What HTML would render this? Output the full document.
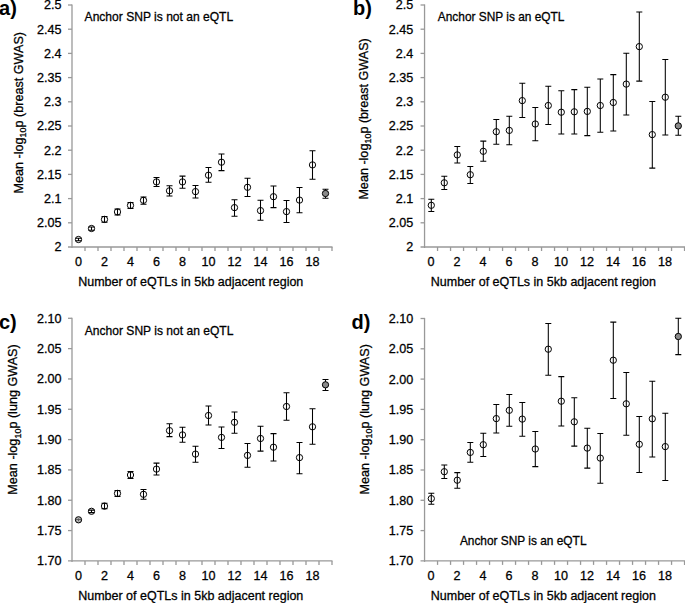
<!DOCTYPE html>
<html><head><meta charset="utf-8"><style>
html,body{margin:0;padding:0;background:#fff;}
body{width:685px;height:603px;overflow:hidden;}
svg{display:block;}
.t{font-family:"Liberation Sans",sans-serif;font-size:12.6px;fill:#000;stroke:#000;stroke-width:0.28;}
.lb{font-family:"Liberation Sans",sans-serif;font-size:20px;font-weight:bold;fill:#000;}
.n{font-family:"Liberation Sans",sans-serif;font-size:13px;fill:#000;stroke:#000;stroke-width:0.3;}
.e{stroke:#000;stroke-width:1.05;fill:none;}
.m{stroke:#000;stroke-width:1.0;}
</style></head><body>
<svg width="685" height="603" viewBox="0 0 685 603">
<line x1="72.0" y1="4.4" x2="72.0" y2="248.0" stroke="#999999" stroke-width="1.3"/>
<line x1="68.0" y1="247.0" x2="332.5" y2="247.0" stroke="#999999" stroke-width="1.3"/>
<text x="61.40" y="251.40" text-anchor="end" class="t">2</text>
<line x1="68.0" y1="222.80" x2="72.0" y2="222.80" stroke="#999999" stroke-width="1.3"/>
<text x="61.40" y="227.20" text-anchor="end" class="t">2.05</text>
<line x1="68.0" y1="198.60" x2="72.0" y2="198.60" stroke="#999999" stroke-width="1.3"/>
<text x="61.40" y="203.00" text-anchor="end" class="t">2.1</text>
<line x1="68.0" y1="174.40" x2="72.0" y2="174.40" stroke="#999999" stroke-width="1.3"/>
<text x="61.40" y="178.80" text-anchor="end" class="t">2.15</text>
<line x1="68.0" y1="150.20" x2="72.0" y2="150.20" stroke="#999999" stroke-width="1.3"/>
<text x="61.40" y="154.60" text-anchor="end" class="t">2.2</text>
<line x1="68.0" y1="126.00" x2="72.0" y2="126.00" stroke="#999999" stroke-width="1.3"/>
<text x="61.40" y="130.40" text-anchor="end" class="t">2.25</text>
<line x1="68.0" y1="101.80" x2="72.0" y2="101.80" stroke="#999999" stroke-width="1.3"/>
<text x="61.40" y="106.20" text-anchor="end" class="t">2.3</text>
<line x1="68.0" y1="77.60" x2="72.0" y2="77.60" stroke="#999999" stroke-width="1.3"/>
<text x="61.40" y="82.00" text-anchor="end" class="t">2.35</text>
<line x1="68.0" y1="53.40" x2="72.0" y2="53.40" stroke="#999999" stroke-width="1.3"/>
<text x="61.40" y="57.80" text-anchor="end" class="t">2.4</text>
<line x1="68.0" y1="29.20" x2="72.0" y2="29.20" stroke="#999999" stroke-width="1.3"/>
<text x="61.40" y="33.60" text-anchor="end" class="t">2.45</text>
<line x1="68.0" y1="5.00" x2="72.0" y2="5.00" stroke="#999999" stroke-width="1.3"/>
<text x="61.40" y="9.40" text-anchor="end" class="t">2.5</text>
<line x1="85.00" y1="247.0" x2="85.00" y2="251.0" stroke="#999999" stroke-width="1.3"/>
<line x1="98.00" y1="247.0" x2="98.00" y2="251.0" stroke="#999999" stroke-width="1.3"/>
<line x1="111.00" y1="247.0" x2="111.00" y2="251.0" stroke="#999999" stroke-width="1.3"/>
<line x1="124.00" y1="247.0" x2="124.00" y2="251.0" stroke="#999999" stroke-width="1.3"/>
<line x1="137.00" y1="247.0" x2="137.00" y2="251.0" stroke="#999999" stroke-width="1.3"/>
<line x1="150.00" y1="247.0" x2="150.00" y2="251.0" stroke="#999999" stroke-width="1.3"/>
<line x1="163.00" y1="247.0" x2="163.00" y2="251.0" stroke="#999999" stroke-width="1.3"/>
<line x1="176.00" y1="247.0" x2="176.00" y2="251.0" stroke="#999999" stroke-width="1.3"/>
<line x1="189.00" y1="247.0" x2="189.00" y2="251.0" stroke="#999999" stroke-width="1.3"/>
<line x1="202.00" y1="247.0" x2="202.00" y2="251.0" stroke="#999999" stroke-width="1.3"/>
<line x1="215.00" y1="247.0" x2="215.00" y2="251.0" stroke="#999999" stroke-width="1.3"/>
<line x1="228.00" y1="247.0" x2="228.00" y2="251.0" stroke="#999999" stroke-width="1.3"/>
<line x1="241.00" y1="247.0" x2="241.00" y2="251.0" stroke="#999999" stroke-width="1.3"/>
<line x1="254.00" y1="247.0" x2="254.00" y2="251.0" stroke="#999999" stroke-width="1.3"/>
<line x1="267.00" y1="247.0" x2="267.00" y2="251.0" stroke="#999999" stroke-width="1.3"/>
<line x1="280.00" y1="247.0" x2="280.00" y2="251.0" stroke="#999999" stroke-width="1.3"/>
<line x1="293.00" y1="247.0" x2="293.00" y2="251.0" stroke="#999999" stroke-width="1.3"/>
<line x1="306.00" y1="247.0" x2="306.00" y2="251.0" stroke="#999999" stroke-width="1.3"/>
<line x1="319.00" y1="247.0" x2="319.00" y2="251.0" stroke="#999999" stroke-width="1.3"/>
<line x1="332.00" y1="247.0" x2="332.00" y2="251.0" stroke="#999999" stroke-width="1.3"/>
<text x="78.50" y="266.10" text-anchor="middle" class="t">0</text>
<text x="104.50" y="266.10" text-anchor="middle" class="t">2</text>
<text x="130.50" y="266.10" text-anchor="middle" class="t">4</text>
<text x="156.50" y="266.10" text-anchor="middle" class="t">6</text>
<text x="182.50" y="266.10" text-anchor="middle" class="t">8</text>
<text x="208.50" y="266.10" text-anchor="middle" class="t">10</text>
<text x="234.50" y="266.10" text-anchor="middle" class="t">12</text>
<text x="260.50" y="266.10" text-anchor="middle" class="t">14</text>
<text x="286.50" y="266.10" text-anchor="middle" class="t">16</text>
<text x="312.50" y="266.10" text-anchor="middle" class="t">18</text>
<text x="78.2" y="286.20" class="t" style="font-size:12.5px">Number of eQTLs in 5kb adjacent region</text>
<text transform="translate(22.9,112.7) rotate(-90)" text-anchor="middle" class="t" style="font-size:12.6px">Mean -log<tspan style="font-size:9px" dy="3.3">10</tspan><tspan dy="-3.3">p (breast GWAS)</tspan></text>
<text x="-0.9" y="14.7" class="lb">a)</text>
<text x="84.6" y="20.8" class="n" textLength="148.6" lengthAdjust="spacingAndGlyphs">Anchor SNP is not an eQTL</text>
<path d="M78.50 238.3V240.7M75.50 238.3h6M75.50 240.7h6" class="e"/>
<path d="M91.50 227V230.3M88.50 227h6M88.50 230.3h6" class="e"/>
<path d="M104.50 216.4V222.3M101.50 216.4h6M101.50 222.3h6" class="e"/>
<path d="M117.50 208.9V214.9M114.50 208.9h6M114.50 214.9h6" class="e"/>
<path d="M130.50 202.4V208.4M127.50 202.4h6M127.50 208.4h6" class="e"/>
<path d="M143.50 197V204.3M140.50 197h6M140.50 204.3h6" class="e"/>
<path d="M156.50 177.4V186.4M153.50 177.4h6M153.50 186.4h6" class="e"/>
<path d="M169.50 185.7V196M166.50 185.7h6M166.50 196h6" class="e"/>
<path d="M182.50 176.1V188.2M179.50 176.1h6M179.50 188.2h6" class="e"/>
<path d="M195.50 185.4V198M192.50 185.4h6M192.50 198h6" class="e"/>
<path d="M208.50 167.4V182.3M205.50 167.4h6M205.50 182.3h6" class="e"/>
<path d="M221.50 154V170.6M218.50 154h6M218.50 170.6h6" class="e"/>
<path d="M234.50 199.7V216.2M231.50 199.7h6M231.50 216.2h6" class="e"/>
<path d="M247.50 178.2V196.5M244.50 178.2h6M244.50 196.5h6" class="e"/>
<path d="M260.50 200.2V220.3M257.50 200.2h6M257.50 220.3h6" class="e"/>
<path d="M273.50 186V207.6M270.50 186h6M270.50 207.6h6" class="e"/>
<path d="M286.50 200.4V222.4M283.50 200.4h6M283.50 222.4h6" class="e"/>
<path d="M299.50 187.5V212.7M296.50 187.5h6M296.50 212.7h6" class="e"/>
<path d="M312.50 150.7V179.3M309.50 150.7h6M309.50 179.3h6" class="e"/>
<path d="M325.50 189.3V198.3M322.50 189.3h6M322.50 198.3h6" class="e"/>
<circle cx="78.50" cy="239.5" r="3.15" fill="none" class="m"/>
<circle cx="91.50" cy="228.5" r="3.15" fill="none" class="m"/>
<circle cx="104.50" cy="219.4" r="3.15" fill="none" class="m"/>
<circle cx="117.50" cy="211.9" r="3.15" fill="none" class="m"/>
<circle cx="130.50" cy="205.4" r="3.15" fill="none" class="m"/>
<circle cx="143.50" cy="200.3" r="3.15" fill="none" class="m"/>
<circle cx="156.50" cy="181.9" r="3.15" fill="none" class="m"/>
<circle cx="169.50" cy="190.8" r="3.15" fill="none" class="m"/>
<circle cx="182.50" cy="181.9" r="3.15" fill="none" class="m"/>
<circle cx="195.50" cy="191.6" r="3.15" fill="none" class="m"/>
<circle cx="208.50" cy="175.2" r="3.15" fill="none" class="m"/>
<circle cx="221.50" cy="162.2" r="3.15" fill="none" class="m"/>
<circle cx="234.50" cy="207.6" r="3.15" fill="none" class="m"/>
<circle cx="247.50" cy="187.3" r="3.15" fill="none" class="m"/>
<circle cx="260.50" cy="210.6" r="3.15" fill="none" class="m"/>
<circle cx="273.50" cy="196.7" r="3.15" fill="none" class="m"/>
<circle cx="286.50" cy="211.6" r="3.15" fill="none" class="m"/>
<circle cx="299.50" cy="200.1" r="3.15" fill="none" class="m"/>
<circle cx="312.50" cy="164.9" r="3.15" fill="none" class="m"/>
<circle cx="325.50" cy="193.5" r="3.15" fill="#8a8a8a" class="m"/>
<line x1="424.55" y1="4.4" x2="424.55" y2="248.0" stroke="#999999" stroke-width="1.3"/>
<line x1="420.55" y1="247.0" x2="685.05" y2="247.0" stroke="#999999" stroke-width="1.3"/>
<text x="413.25" y="251.40" text-anchor="end" class="t">2</text>
<line x1="420.55" y1="222.80" x2="424.55" y2="222.80" stroke="#999999" stroke-width="1.3"/>
<text x="413.25" y="227.20" text-anchor="end" class="t">2.05</text>
<line x1="420.55" y1="198.60" x2="424.55" y2="198.60" stroke="#999999" stroke-width="1.3"/>
<text x="413.25" y="203.00" text-anchor="end" class="t">2.1</text>
<line x1="420.55" y1="174.40" x2="424.55" y2="174.40" stroke="#999999" stroke-width="1.3"/>
<text x="413.25" y="178.80" text-anchor="end" class="t">2.15</text>
<line x1="420.55" y1="150.20" x2="424.55" y2="150.20" stroke="#999999" stroke-width="1.3"/>
<text x="413.25" y="154.60" text-anchor="end" class="t">2.2</text>
<line x1="420.55" y1="126.00" x2="424.55" y2="126.00" stroke="#999999" stroke-width="1.3"/>
<text x="413.25" y="130.40" text-anchor="end" class="t">2.25</text>
<line x1="420.55" y1="101.80" x2="424.55" y2="101.80" stroke="#999999" stroke-width="1.3"/>
<text x="413.25" y="106.20" text-anchor="end" class="t">2.3</text>
<line x1="420.55" y1="77.60" x2="424.55" y2="77.60" stroke="#999999" stroke-width="1.3"/>
<text x="413.25" y="82.00" text-anchor="end" class="t">2.35</text>
<line x1="420.55" y1="53.40" x2="424.55" y2="53.40" stroke="#999999" stroke-width="1.3"/>
<text x="413.25" y="57.80" text-anchor="end" class="t">2.4</text>
<line x1="420.55" y1="29.20" x2="424.55" y2="29.20" stroke="#999999" stroke-width="1.3"/>
<text x="413.25" y="33.60" text-anchor="end" class="t">2.45</text>
<line x1="420.55" y1="5.00" x2="424.55" y2="5.00" stroke="#999999" stroke-width="1.3"/>
<text x="413.25" y="9.40" text-anchor="end" class="t">2.5</text>
<line x1="437.55" y1="247.0" x2="437.55" y2="251.0" stroke="#999999" stroke-width="1.3"/>
<line x1="450.55" y1="247.0" x2="450.55" y2="251.0" stroke="#999999" stroke-width="1.3"/>
<line x1="463.55" y1="247.0" x2="463.55" y2="251.0" stroke="#999999" stroke-width="1.3"/>
<line x1="476.55" y1="247.0" x2="476.55" y2="251.0" stroke="#999999" stroke-width="1.3"/>
<line x1="489.55" y1="247.0" x2="489.55" y2="251.0" stroke="#999999" stroke-width="1.3"/>
<line x1="502.55" y1="247.0" x2="502.55" y2="251.0" stroke="#999999" stroke-width="1.3"/>
<line x1="515.55" y1="247.0" x2="515.55" y2="251.0" stroke="#999999" stroke-width="1.3"/>
<line x1="528.55" y1="247.0" x2="528.55" y2="251.0" stroke="#999999" stroke-width="1.3"/>
<line x1="541.55" y1="247.0" x2="541.55" y2="251.0" stroke="#999999" stroke-width="1.3"/>
<line x1="554.55" y1="247.0" x2="554.55" y2="251.0" stroke="#999999" stroke-width="1.3"/>
<line x1="567.55" y1="247.0" x2="567.55" y2="251.0" stroke="#999999" stroke-width="1.3"/>
<line x1="580.55" y1="247.0" x2="580.55" y2="251.0" stroke="#999999" stroke-width="1.3"/>
<line x1="593.55" y1="247.0" x2="593.55" y2="251.0" stroke="#999999" stroke-width="1.3"/>
<line x1="606.55" y1="247.0" x2="606.55" y2="251.0" stroke="#999999" stroke-width="1.3"/>
<line x1="619.55" y1="247.0" x2="619.55" y2="251.0" stroke="#999999" stroke-width="1.3"/>
<line x1="632.55" y1="247.0" x2="632.55" y2="251.0" stroke="#999999" stroke-width="1.3"/>
<line x1="645.55" y1="247.0" x2="645.55" y2="251.0" stroke="#999999" stroke-width="1.3"/>
<line x1="658.55" y1="247.0" x2="658.55" y2="251.0" stroke="#999999" stroke-width="1.3"/>
<line x1="671.55" y1="247.0" x2="671.55" y2="251.0" stroke="#999999" stroke-width="1.3"/>
<line x1="684.55" y1="247.0" x2="684.55" y2="251.0" stroke="#999999" stroke-width="1.3"/>
<text x="431.05" y="266.10" text-anchor="middle" class="t">0</text>
<text x="457.05" y="266.10" text-anchor="middle" class="t">2</text>
<text x="483.05" y="266.10" text-anchor="middle" class="t">4</text>
<text x="509.05" y="266.10" text-anchor="middle" class="t">6</text>
<text x="535.05" y="266.10" text-anchor="middle" class="t">8</text>
<text x="561.05" y="266.10" text-anchor="middle" class="t">10</text>
<text x="587.05" y="266.10" text-anchor="middle" class="t">12</text>
<text x="613.05" y="266.10" text-anchor="middle" class="t">14</text>
<text x="639.05" y="266.10" text-anchor="middle" class="t">16</text>
<text x="665.05" y="266.10" text-anchor="middle" class="t">18</text>
<text x="430.75" y="286.20" class="t" style="font-size:12.5px">Number of eQTLs in 5kb adjacent region</text>
<text transform="translate(367.9,118.9) rotate(-90)" text-anchor="middle" class="t" style="font-size:12.6px">Mean -log<tspan style="font-size:9px" dy="3.3">10</tspan><tspan dy="-3.3">p (breast GWAS)</tspan></text>
<text x="353" y="14.5" class="lb">b)</text>
<text x="437.8" y="21.0" class="n" textLength="126.6" lengthAdjust="spacingAndGlyphs">Anchor SNP is an eQTL</text>
<path d="M431.30 199.3V211.4M428.30 199.3h6M428.30 211.4h6" class="e"/>
<path d="M444.30 176.2V189.5M441.30 176.2h6M441.30 189.5h6" class="e"/>
<path d="M457.30 146.4V162.9M454.30 146.4h6M454.30 162.9h6" class="e"/>
<path d="M470.30 166.5V183.4M467.30 166.5h6M467.30 183.4h6" class="e"/>
<path d="M483.30 141.1V161.2M480.30 141.1h6M480.30 161.2h6" class="e"/>
<path d="M496.30 119.5V144.3M493.30 119.5h6M493.30 144.3h6" class="e"/>
<path d="M509.30 116.2V144.7M506.30 116.2h6M506.30 144.7h6" class="e"/>
<path d="M522.30 83.3V117.5M519.30 83.3h6M519.30 117.5h6" class="e"/>
<path d="M535.30 107.5V140.7M532.30 107.5h6M532.30 140.7h6" class="e"/>
<path d="M548.30 86.2V124.4M545.30 86.2h6M545.30 124.4h6" class="e"/>
<path d="M561.30 90.8V133.9M558.30 90.8h6M558.30 133.9h6" class="e"/>
<path d="M574.30 89.6V133.9M571.30 89.6h6M571.30 133.9h6" class="e"/>
<path d="M587.30 87.2V135.6M584.30 87.2h6M584.30 135.6h6" class="e"/>
<path d="M600.30 78.9V132.3M597.30 78.9h6M597.30 132.3h6" class="e"/>
<path d="M613.30 74.6V131M610.30 74.6h6M610.30 131h6" class="e"/>
<path d="M626.30 53.2V114.9M623.30 53.2h6M623.30 114.9h6" class="e"/>
<path d="M639.30 12V81.1M636.30 12h6M636.30 81.1h6" class="e"/>
<path d="M652.30 101.4V168.1M649.30 101.4h6M649.30 168.1h6" class="e"/>
<path d="M665.30 59.5V134.9M662.30 59.5h6M662.30 134.9h6" class="e"/>
<path d="M678.30 116.3V135.3M675.30 116.3h6M675.30 135.3h6" class="e"/>
<circle cx="431.30" cy="205.3" r="3.15" fill="none" class="m"/>
<circle cx="444.30" cy="182.8" r="3.15" fill="none" class="m"/>
<circle cx="457.30" cy="154.9" r="3.15" fill="none" class="m"/>
<circle cx="470.30" cy="174.7" r="3.15" fill="none" class="m"/>
<circle cx="483.30" cy="151.3" r="3.15" fill="none" class="m"/>
<circle cx="496.30" cy="131.7" r="3.15" fill="none" class="m"/>
<circle cx="509.30" cy="130.4" r="3.15" fill="none" class="m"/>
<circle cx="522.30" cy="100.6" r="3.15" fill="none" class="m"/>
<circle cx="535.30" cy="124" r="3.15" fill="none" class="m"/>
<circle cx="548.30" cy="105.5" r="3.15" fill="none" class="m"/>
<circle cx="561.30" cy="112.2" r="3.15" fill="none" class="m"/>
<circle cx="574.30" cy="111.8" r="3.15" fill="none" class="m"/>
<circle cx="587.30" cy="111.4" r="3.15" fill="none" class="m"/>
<circle cx="600.30" cy="105.5" r="3.15" fill="none" class="m"/>
<circle cx="613.30" cy="102.5" r="3.15" fill="none" class="m"/>
<circle cx="626.30" cy="84.1" r="3.15" fill="none" class="m"/>
<circle cx="639.30" cy="46.6" r="3.15" fill="none" class="m"/>
<circle cx="652.30" cy="134.6" r="3.15" fill="none" class="m"/>
<circle cx="665.30" cy="97.2" r="3.15" fill="none" class="m"/>
<circle cx="678.30" cy="125.9" r="3.15" fill="#8a8a8a" class="m"/>
<line x1="72.0" y1="317.7" x2="72.0" y2="561.9" stroke="#999999" stroke-width="1.3"/>
<line x1="68.0" y1="560.9" x2="332.5" y2="560.9" stroke="#999999" stroke-width="1.3"/>
<text x="61.40" y="565.30" text-anchor="end" class="t">1.70</text>
<line x1="68.0" y1="530.57" x2="72.0" y2="530.57" stroke="#999999" stroke-width="1.3"/>
<text x="61.40" y="534.97" text-anchor="end" class="t">1.75</text>
<line x1="68.0" y1="500.25" x2="72.0" y2="500.25" stroke="#999999" stroke-width="1.3"/>
<text x="61.40" y="504.65" text-anchor="end" class="t">1.80</text>
<line x1="68.0" y1="469.92" x2="72.0" y2="469.92" stroke="#999999" stroke-width="1.3"/>
<text x="61.40" y="474.32" text-anchor="end" class="t">1.85</text>
<line x1="68.0" y1="439.60" x2="72.0" y2="439.60" stroke="#999999" stroke-width="1.3"/>
<text x="61.40" y="444.00" text-anchor="end" class="t">1.90</text>
<line x1="68.0" y1="409.27" x2="72.0" y2="409.27" stroke="#999999" stroke-width="1.3"/>
<text x="61.40" y="413.67" text-anchor="end" class="t">1.95</text>
<line x1="68.0" y1="378.95" x2="72.0" y2="378.95" stroke="#999999" stroke-width="1.3"/>
<text x="61.40" y="383.35" text-anchor="end" class="t">2.00</text>
<line x1="68.0" y1="348.62" x2="72.0" y2="348.62" stroke="#999999" stroke-width="1.3"/>
<text x="61.40" y="353.02" text-anchor="end" class="t">2.05</text>
<line x1="68.0" y1="318.30" x2="72.0" y2="318.30" stroke="#999999" stroke-width="1.3"/>
<text x="61.40" y="322.70" text-anchor="end" class="t">2.10</text>
<line x1="85.00" y1="560.9" x2="85.00" y2="564.9" stroke="#999999" stroke-width="1.3"/>
<line x1="98.00" y1="560.9" x2="98.00" y2="564.9" stroke="#999999" stroke-width="1.3"/>
<line x1="111.00" y1="560.9" x2="111.00" y2="564.9" stroke="#999999" stroke-width="1.3"/>
<line x1="124.00" y1="560.9" x2="124.00" y2="564.9" stroke="#999999" stroke-width="1.3"/>
<line x1="137.00" y1="560.9" x2="137.00" y2="564.9" stroke="#999999" stroke-width="1.3"/>
<line x1="150.00" y1="560.9" x2="150.00" y2="564.9" stroke="#999999" stroke-width="1.3"/>
<line x1="163.00" y1="560.9" x2="163.00" y2="564.9" stroke="#999999" stroke-width="1.3"/>
<line x1="176.00" y1="560.9" x2="176.00" y2="564.9" stroke="#999999" stroke-width="1.3"/>
<line x1="189.00" y1="560.9" x2="189.00" y2="564.9" stroke="#999999" stroke-width="1.3"/>
<line x1="202.00" y1="560.9" x2="202.00" y2="564.9" stroke="#999999" stroke-width="1.3"/>
<line x1="215.00" y1="560.9" x2="215.00" y2="564.9" stroke="#999999" stroke-width="1.3"/>
<line x1="228.00" y1="560.9" x2="228.00" y2="564.9" stroke="#999999" stroke-width="1.3"/>
<line x1="241.00" y1="560.9" x2="241.00" y2="564.9" stroke="#999999" stroke-width="1.3"/>
<line x1="254.00" y1="560.9" x2="254.00" y2="564.9" stroke="#999999" stroke-width="1.3"/>
<line x1="267.00" y1="560.9" x2="267.00" y2="564.9" stroke="#999999" stroke-width="1.3"/>
<line x1="280.00" y1="560.9" x2="280.00" y2="564.9" stroke="#999999" stroke-width="1.3"/>
<line x1="293.00" y1="560.9" x2="293.00" y2="564.9" stroke="#999999" stroke-width="1.3"/>
<line x1="306.00" y1="560.9" x2="306.00" y2="564.9" stroke="#999999" stroke-width="1.3"/>
<line x1="319.00" y1="560.9" x2="319.00" y2="564.9" stroke="#999999" stroke-width="1.3"/>
<line x1="332.00" y1="560.9" x2="332.00" y2="564.9" stroke="#999999" stroke-width="1.3"/>
<text x="78.50" y="580.00" text-anchor="middle" class="t">0</text>
<text x="104.50" y="580.00" text-anchor="middle" class="t">2</text>
<text x="130.50" y="580.00" text-anchor="middle" class="t">4</text>
<text x="156.50" y="580.00" text-anchor="middle" class="t">6</text>
<text x="182.50" y="580.00" text-anchor="middle" class="t">8</text>
<text x="208.50" y="580.00" text-anchor="middle" class="t">10</text>
<text x="234.50" y="580.00" text-anchor="middle" class="t">12</text>
<text x="260.50" y="580.00" text-anchor="middle" class="t">14</text>
<text x="286.50" y="580.00" text-anchor="middle" class="t">16</text>
<text x="312.50" y="580.00" text-anchor="middle" class="t">18</text>
<text x="78.2" y="600.10" class="t" style="font-size:12.5px">Number of eQTLs in 5kb adjacent region</text>
<text transform="translate(17.3,419.5) rotate(-90)" text-anchor="middle" class="t" style="font-size:12.6px">Mean -log<tspan style="font-size:9px" dy="3.3">10</tspan><tspan dy="-3.3">p (lung GWAS)</tspan></text>
<text x="-1.0" y="328.5" class="lb">c)</text>
<text x="84.8" y="334.8" class="n" textLength="148.6" lengthAdjust="spacingAndGlyphs">Anchor SNP is not an eQTL</text>
<path d="M91.50 510.1V512.6M88.50 510.1h6M88.50 512.6h6" class="e"/>
<path d="M104.50 503.3V508.8M101.50 503.3h6M101.50 508.8h6" class="e"/>
<path d="M117.50 490.4V496.4M114.50 490.4h6M114.50 496.4h6" class="e"/>
<path d="M130.50 471.5V478.5M127.50 471.5h6M127.50 478.5h6" class="e"/>
<path d="M143.50 489.4V499.3M140.50 489.4h6M140.50 499.3h6" class="e"/>
<path d="M156.50 463.1V475M153.50 463.1h6M153.50 475h6" class="e"/>
<path d="M169.50 423.7V436.6M166.50 423.7h6M166.50 436.6h6" class="e"/>
<path d="M182.50 427.3V442.3M179.50 427.3h6M179.50 442.3h6" class="e"/>
<path d="M195.50 446.3V462.2M192.50 446.3h6M192.50 462.2h6" class="e"/>
<path d="M208.50 406V424.9M205.50 406h6M205.50 424.9h6" class="e"/>
<path d="M221.50 426.9V448.4M218.50 426.9h6M218.50 448.4h6" class="e"/>
<path d="M234.50 411.9V433.2M231.50 411.9h6M231.50 433.2h6" class="e"/>
<path d="M247.50 443.5V467.2M244.50 443.5h6M244.50 467.2h6" class="e"/>
<path d="M260.50 426.3V451.1M257.50 426.3h6M257.50 451.1h6" class="e"/>
<path d="M273.50 433.6V460.9M270.50 433.6h6M270.50 460.9h6" class="e"/>
<path d="M286.50 392.8V420.3M283.50 392.8h6M283.50 420.3h6" class="e"/>
<path d="M299.50 442.5V473.7M296.50 442.5h6M296.50 473.7h6" class="e"/>
<path d="M312.50 408.7V444.3M309.50 408.7h6M309.50 444.3h6" class="e"/>
<path d="M325.50 379.4V390.4M322.50 379.4h6M322.50 390.4h6" class="e"/>
<circle cx="78.50" cy="519.8" r="3.15" fill="#b4b4b4" class="m"/>
<path d="M78.50 518.4V521.1999999999999M75.90 519.5h5.2" stroke="#555" stroke-width="0.9" fill="none"/>
<circle cx="91.50" cy="511.3" r="3.15" fill="none" class="m"/>
<circle cx="104.50" cy="506.1" r="3.15" fill="none" class="m"/>
<circle cx="117.50" cy="493.4" r="3.15" fill="none" class="m"/>
<circle cx="130.50" cy="475" r="3.15" fill="none" class="m"/>
<circle cx="143.50" cy="494.3" r="3.15" fill="none" class="m"/>
<circle cx="156.50" cy="469.1" r="3.15" fill="none" class="m"/>
<circle cx="169.50" cy="430.6" r="3.15" fill="none" class="m"/>
<circle cx="182.50" cy="434.9" r="3.15" fill="none" class="m"/>
<circle cx="195.50" cy="454.1" r="3.15" fill="none" class="m"/>
<circle cx="208.50" cy="415.5" r="3.15" fill="none" class="m"/>
<circle cx="221.50" cy="437.4" r="3.15" fill="none" class="m"/>
<circle cx="234.50" cy="422.3" r="3.15" fill="none" class="m"/>
<circle cx="247.50" cy="455.4" r="3.15" fill="none" class="m"/>
<circle cx="260.50" cy="438.5" r="3.15" fill="none" class="m"/>
<circle cx="273.50" cy="447.2" r="3.15" fill="none" class="m"/>
<circle cx="286.50" cy="406.5" r="3.15" fill="none" class="m"/>
<circle cx="299.50" cy="457.6" r="3.15" fill="none" class="m"/>
<circle cx="312.50" cy="426.8" r="3.15" fill="none" class="m"/>
<circle cx="325.50" cy="384.8" r="3.15" fill="#8a8a8a" class="m"/>
<line x1="424.55" y1="317.9" x2="424.55" y2="561.9" stroke="#999999" stroke-width="1.3"/>
<line x1="420.55" y1="560.9" x2="685.05" y2="560.9" stroke="#999999" stroke-width="1.3"/>
<text x="413.25" y="565.30" text-anchor="end" class="t">1.70</text>
<line x1="420.55" y1="530.60" x2="424.55" y2="530.60" stroke="#999999" stroke-width="1.3"/>
<text x="413.25" y="535.00" text-anchor="end" class="t">1.75</text>
<line x1="420.55" y1="500.30" x2="424.55" y2="500.30" stroke="#999999" stroke-width="1.3"/>
<text x="413.25" y="504.70" text-anchor="end" class="t">1.80</text>
<line x1="420.55" y1="470.00" x2="424.55" y2="470.00" stroke="#999999" stroke-width="1.3"/>
<text x="413.25" y="474.40" text-anchor="end" class="t">1.85</text>
<line x1="420.55" y1="439.70" x2="424.55" y2="439.70" stroke="#999999" stroke-width="1.3"/>
<text x="413.25" y="444.10" text-anchor="end" class="t">1.90</text>
<line x1="420.55" y1="409.40" x2="424.55" y2="409.40" stroke="#999999" stroke-width="1.3"/>
<text x="413.25" y="413.80" text-anchor="end" class="t">1.95</text>
<line x1="420.55" y1="379.10" x2="424.55" y2="379.10" stroke="#999999" stroke-width="1.3"/>
<text x="413.25" y="383.50" text-anchor="end" class="t">2.00</text>
<line x1="420.55" y1="348.80" x2="424.55" y2="348.80" stroke="#999999" stroke-width="1.3"/>
<text x="413.25" y="353.20" text-anchor="end" class="t">2.05</text>
<line x1="420.55" y1="318.50" x2="424.55" y2="318.50" stroke="#999999" stroke-width="1.3"/>
<text x="413.25" y="322.90" text-anchor="end" class="t">2.10</text>
<line x1="437.55" y1="560.9" x2="437.55" y2="564.9" stroke="#999999" stroke-width="1.3"/>
<line x1="450.55" y1="560.9" x2="450.55" y2="564.9" stroke="#999999" stroke-width="1.3"/>
<line x1="463.55" y1="560.9" x2="463.55" y2="564.9" stroke="#999999" stroke-width="1.3"/>
<line x1="476.55" y1="560.9" x2="476.55" y2="564.9" stroke="#999999" stroke-width="1.3"/>
<line x1="489.55" y1="560.9" x2="489.55" y2="564.9" stroke="#999999" stroke-width="1.3"/>
<line x1="502.55" y1="560.9" x2="502.55" y2="564.9" stroke="#999999" stroke-width="1.3"/>
<line x1="515.55" y1="560.9" x2="515.55" y2="564.9" stroke="#999999" stroke-width="1.3"/>
<line x1="528.55" y1="560.9" x2="528.55" y2="564.9" stroke="#999999" stroke-width="1.3"/>
<line x1="541.55" y1="560.9" x2="541.55" y2="564.9" stroke="#999999" stroke-width="1.3"/>
<line x1="554.55" y1="560.9" x2="554.55" y2="564.9" stroke="#999999" stroke-width="1.3"/>
<line x1="567.55" y1="560.9" x2="567.55" y2="564.9" stroke="#999999" stroke-width="1.3"/>
<line x1="580.55" y1="560.9" x2="580.55" y2="564.9" stroke="#999999" stroke-width="1.3"/>
<line x1="593.55" y1="560.9" x2="593.55" y2="564.9" stroke="#999999" stroke-width="1.3"/>
<line x1="606.55" y1="560.9" x2="606.55" y2="564.9" stroke="#999999" stroke-width="1.3"/>
<line x1="619.55" y1="560.9" x2="619.55" y2="564.9" stroke="#999999" stroke-width="1.3"/>
<line x1="632.55" y1="560.9" x2="632.55" y2="564.9" stroke="#999999" stroke-width="1.3"/>
<line x1="645.55" y1="560.9" x2="645.55" y2="564.9" stroke="#999999" stroke-width="1.3"/>
<line x1="658.55" y1="560.9" x2="658.55" y2="564.9" stroke="#999999" stroke-width="1.3"/>
<line x1="671.55" y1="560.9" x2="671.55" y2="564.9" stroke="#999999" stroke-width="1.3"/>
<line x1="684.55" y1="560.9" x2="684.55" y2="564.9" stroke="#999999" stroke-width="1.3"/>
<text x="431.05" y="580.00" text-anchor="middle" class="t">0</text>
<text x="457.05" y="580.00" text-anchor="middle" class="t">2</text>
<text x="483.05" y="580.00" text-anchor="middle" class="t">4</text>
<text x="509.05" y="580.00" text-anchor="middle" class="t">6</text>
<text x="535.05" y="580.00" text-anchor="middle" class="t">8</text>
<text x="561.05" y="580.00" text-anchor="middle" class="t">10</text>
<text x="587.05" y="580.00" text-anchor="middle" class="t">12</text>
<text x="613.05" y="580.00" text-anchor="middle" class="t">14</text>
<text x="639.05" y="580.00" text-anchor="middle" class="t">16</text>
<text x="665.05" y="580.00" text-anchor="middle" class="t">18</text>
<text x="430.75" y="600.10" class="t" style="font-size:12.5px">Number of eQTLs in 5kb adjacent region</text>
<text transform="translate(368.6,419.3) rotate(-90)" text-anchor="middle" class="t" style="font-size:12.6px">Mean -log<tspan style="font-size:9px" dy="3.3">10</tspan><tspan dy="-3.3">p (lung GWAS)</tspan></text>
<text x="351.5" y="329" class="lb">d)</text>
<text x="459.9" y="544.5" class="n" textLength="126.6" lengthAdjust="spacingAndGlyphs">Anchor SNP is an eQTL</text>
<path d="M431.30 493.3V504.3M428.30 493.3h6M428.30 504.3h6" class="e"/>
<path d="M444.30 465V478.4M441.30 465h6M441.30 478.4h6" class="e"/>
<path d="M457.30 472.6V488.2M454.30 472.6h6M454.30 488.2h6" class="e"/>
<path d="M470.30 442.4V462.3M467.30 442.4h6M467.30 462.3h6" class="e"/>
<path d="M483.30 433.2V456.4M480.30 433.2h6M480.30 456.4h6" class="e"/>
<path d="M496.30 404.4V432.9M493.30 404.4h6M493.30 432.9h6" class="e"/>
<path d="M509.30 394.5V426.3M506.30 394.5h6M506.30 426.3h6" class="e"/>
<path d="M522.30 402.4V436.3M519.30 402.4h6M519.30 436.3h6" class="e"/>
<path d="M535.30 431.5V466.6M532.30 431.5h6M532.30 466.6h6" class="e"/>
<path d="M548.30 323.4V375.3M545.30 323.4h6M545.30 375.3h6" class="e"/>
<path d="M561.30 376.6V426M558.30 376.6h6M558.30 426h6" class="e"/>
<path d="M574.30 397.8V446.1M571.30 397.8h6M571.30 446.1h6" class="e"/>
<path d="M587.30 428.2V468.1M584.30 428.2h6M584.30 468.1h6" class="e"/>
<path d="M600.30 433.5V483.3M597.30 433.5h6M597.30 483.3h6" class="e"/>
<path d="M613.30 322.1V398.4M610.30 322.1h6M610.30 398.4h6" class="e"/>
<path d="M626.30 372.4V435.3M623.30 372.4h6M623.30 435.3h6" class="e"/>
<path d="M639.30 416.4V472.5M636.30 416.4h6M636.30 472.5h6" class="e"/>
<path d="M652.30 381.3V457M649.30 381.3h6M649.30 457h6" class="e"/>
<path d="M665.30 413.2V480.4M662.30 413.2h6M662.30 480.4h6" class="e"/>
<path d="M678.30 318.3V354.6M675.30 318.3h6M675.30 354.6h6" class="e"/>
<circle cx="431.30" cy="498.6" r="3.15" fill="none" class="m"/>
<circle cx="444.30" cy="471.7" r="3.15" fill="none" class="m"/>
<circle cx="457.30" cy="480.2" r="3.15" fill="none" class="m"/>
<circle cx="470.30" cy="452.4" r="3.15" fill="none" class="m"/>
<circle cx="483.30" cy="444.7" r="3.15" fill="none" class="m"/>
<circle cx="496.30" cy="418.6" r="3.15" fill="none" class="m"/>
<circle cx="509.30" cy="410.3" r="3.15" fill="none" class="m"/>
<circle cx="522.30" cy="419.1" r="3.15" fill="none" class="m"/>
<circle cx="535.30" cy="449" r="3.15" fill="none" class="m"/>
<circle cx="548.30" cy="349.2" r="3.15" fill="none" class="m"/>
<circle cx="561.30" cy="401.2" r="3.15" fill="none" class="m"/>
<circle cx="574.30" cy="421.8" r="3.15" fill="none" class="m"/>
<circle cx="587.30" cy="448.1" r="3.15" fill="none" class="m"/>
<circle cx="600.30" cy="458.1" r="3.15" fill="none" class="m"/>
<circle cx="613.30" cy="360.2" r="3.15" fill="none" class="m"/>
<circle cx="626.30" cy="403.8" r="3.15" fill="none" class="m"/>
<circle cx="639.30" cy="444.3" r="3.15" fill="none" class="m"/>
<circle cx="652.30" cy="418.8" r="3.15" fill="none" class="m"/>
<circle cx="665.30" cy="446.6" r="3.15" fill="none" class="m"/>
<circle cx="678.30" cy="336.5" r="3.15" fill="#8a8a8a" class="m"/>
</svg>
</body></html>
